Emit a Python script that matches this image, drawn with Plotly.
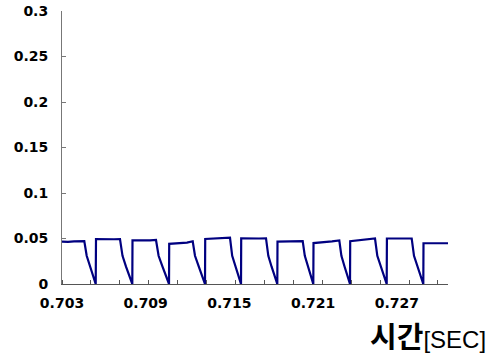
import plotly.graph_objects as go

# time [s] and value samples
time_s = [
    0.703000, 0.703430, 0.703860, 0.704290, 0.704598, 0.704770, 0.705007, 0.705244, 0.705416,
    0.705437, 0.705867, 0.706297, 0.706727, 0.707157, 0.707337, 0.707588, 0.707838, 0.708039,
    0.708053, 0.708448, 0.708878, 0.709308, 0.709738, 0.709924, 0.710204, 0.710483, 0.710670,
    0.710684, 0.711100, 0.711530, 0.711960, 0.712369, 0.712533, 0.712806, 0.713078, 0.713250,
    0.713265, 0.713680, 0.714110, 0.714540, 0.715042, 0.715200, 0.715437, 0.715673, 0.715831,
    0.715845, 0.716261, 0.716691, 0.717121, 0.717623, 0.717788, 0.718024, 0.718268, 0.718433,
    0.718447, 0.718841, 0.719271, 0.719701, 0.720060, 0.720253, 0.720404, 0.720633, 0.720863, 0.721013,
    0.721028, 0.721493, 0.721924, 0.722354, 0.722877, 0.723027, 0.723257, 0.723493, 0.723644,
    0.723658, 0.724074, 0.724504, 0.724934, 0.725436, 0.725601, 0.725852, 0.726110, 0.726274,
    0.726289, 0.726726, 0.727156, 0.727586, 0.728066, 0.728231, 0.728482, 0.728733, 0.728898,
    0.728912, 0.729378, 0.729808, 0.730238, 0.730668,
]
value = [
    0.0465, 0.0462, 0.0468, 0.0470, 0.0472, 0.0310, 0.0190, 0.0080, 0.0000,
    0.0493, 0.0490, 0.0495, 0.0492, 0.0494, 0.0310, 0.0190, 0.0080, 0.0000,
    0.0480, 0.0478, 0.0483, 0.0480, 0.0484, 0.0310, 0.0190, 0.0080, 0.0000,
    0.0442, 0.0444, 0.0446, 0.0455, 0.0470, 0.0310, 0.0190, 0.0080, 0.0000,
    0.0495, 0.0498, 0.0502, 0.0505, 0.0508, 0.0310, 0.0190, 0.0080, 0.0000,
    0.0502, 0.0500, 0.0503, 0.0500, 0.0502, 0.0310, 0.0190, 0.0080, 0.0000,
    0.0465, 0.0468, 0.0466, 0.0470, 0.0478, 0.0472, 0.0310, 0.0190, 0.0080, 0.0000,
    0.0450, 0.0455, 0.0460, 0.0468, 0.0478, 0.0310, 0.0190, 0.0080, 0.0000,
    0.0470, 0.0478, 0.0485, 0.0495, 0.0500, 0.0310, 0.0190, 0.0080, 0.0000,
    0.0500, 0.0502, 0.0499, 0.0501, 0.0500, 0.0310, 0.0190, 0.0080, 0.0000,
    0.0448, 0.0446, 0.0449, 0.0447, 0.0448,
]

x_tick_vals = [0.703, 0.709, 0.715, 0.721, 0.727]
x_tick_text = ["0.703", "0.709", "0.715", "0.721", "0.727"]
y_tick_vals = [0, 0.05, 0.1, 0.15, 0.2, 0.25, 0.3]
y_tick_text = ["0", "0.05", "0.1", "0.15", "0.2", "0.25", "0.3"]

fig = go.Figure()
fig.add_trace(go.Scatter(
    x=time_s, y=value, mode="lines",
    line=dict(color="#000080", width=2.2),
    hoverinfo="skip", showlegend=False,
))

tick_font = dict(family="DejaVu Sans", size=14, color="#000000", weight="bold")

fig.update_layout(
    width=500, height=356,
    margin=dict(l=62, r=52, t=11, b=72, autoexpand=False),
    paper_bgcolor="white", plot_bgcolor="white",
    xaxis=dict(
        range=[0.703, 0.730668],
        tickmode="array", tickvals=x_tick_vals, ticktext=x_tick_text,
        ticks="", showgrid=False, zeroline=False,
        showline=True, linecolor="#555555", linewidth=1,
        tickfont=tick_font, ticklabelstandoff=6,
        minor=dict(tickmode="linear", tick0=0.703, dtick=0.002073,
                   ticks="inside", ticklen=4, tickcolor="#555555", showgrid=False),
    ),
    yaxis=dict(
        range=[0, 0.3],
        tickmode="array", tickvals=y_tick_vals, ticktext=y_tick_text,
        ticks="inside", ticklen=4, tickcolor="#777777",
        showgrid=False, zeroline=False,
        showline=True, linecolor="#777777", linewidth=1,
        tickfont=tick_font, ticklabelstandoff=10,
    ),
    annotations=[dict(
        xref="paper", yref="paper", x=1.1036, y=-0.1868,
        xanchor="right", yanchor="middle", showarrow=False,
        text="<span style='font-family:Noto Sans CJK KR;font-size:29px;font-weight:bold'>시간</span>[SEC]",
        font=dict(family="Liberation Sans", size=24, color="#000000"),
    )],
)

fig.write_html("out.html", config={"displayModeBar": False},
               post_script="document.body.style.margin='0';")
